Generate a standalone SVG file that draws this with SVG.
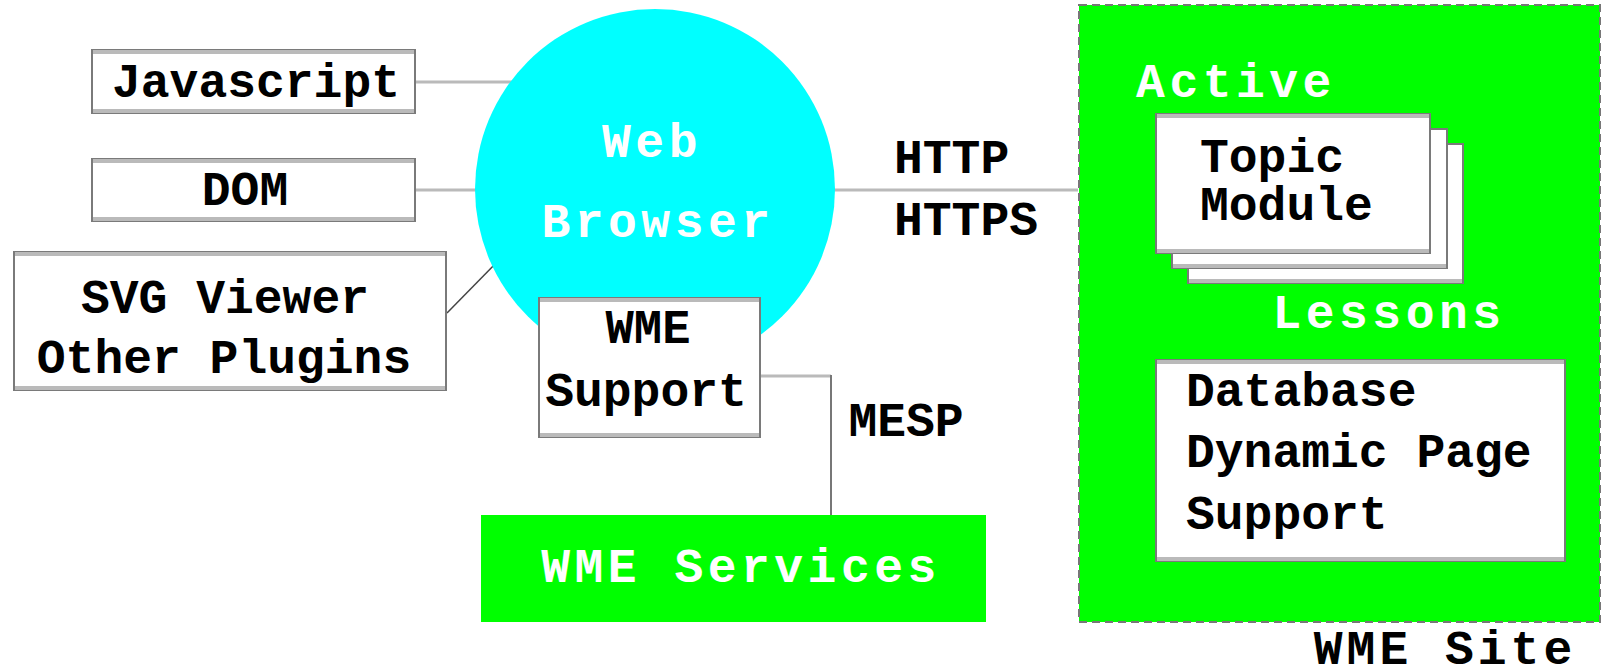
<svg xmlns="http://www.w3.org/2000/svg" width="1602" height="671" viewBox="0 0 1602 671">
<style>
text{font-family:"Liberation Mono","Courier New",monospace;font-weight:bold;font-size:48px}
.b{fill:#000}
.w{fill:#fff;letter-spacing:4.5px}
.m{text-anchor:middle}
.box{fill:#fff;stroke:#7a7a7a;stroke-width:2}
.bev{fill:none;stroke:#bababa;stroke-width:4}
.lt{fill:none;stroke:#bababa;stroke-width:3}
.dk{fill:none;stroke:#777;stroke-width:2}
.thin{fill:none;stroke:#444;stroke-width:1.5}
</style>
<g id="connectors">
<line class="lt" x1="416" y1="82" x2="520" y2="82"/>
<line class="lt" x1="416" y1="190" x2="500" y2="190"/>
<line class="thin" x1="447" y1="313" x2="500" y2="259"/>
<line class="lt" x1="820" y1="190" x2="1078" y2="190"/>
<line class="lt" x1="761" y1="376" x2="831" y2="376"/>
<line class="dk" x1="831" y1="375" x2="831" y2="516"/>
</g>
<g id="javascript">
<rect class="box" x="92" y="50" width="323" height="63"/>
<path class="bev" d="M93,52H414M93,111H414"/>
<text class="b m" x="256" y="97">Javascript</text>
</g>
<g id="dom">
<rect class="box" x="92" y="159" width="323" height="62"/>
<path class="bev" d="M93,161H414M93,219H414"/>
<text class="b m" x="245" y="205">DOM</text>
</g>
<g id="plugins">
<rect class="box" x="14" y="252" width="432" height="138"/>
<path class="bev" d="M15,254H445M15,388H445"/>
<text class="b m" x="225" y="313">SVG Viewer</text>
<text class="b m" x="224" y="373">Other Plugins</text>
</g>
<g id="browser">
<circle cx="655" cy="189" r="180" fill="#00ffff"/>
<text class="w m" x="652" y="157">Web</text>
<text class="w m" x="658" y="237">Browser</text>
</g>
<g id="http-label">
<text class="b" x="894" y="173">HTTP</text>
<text class="b" x="894" y="235">HTTPS</text>
</g>
<g id="wme-support">
<rect class="box" x="539" y="298" width="221" height="139"/>
<path class="bev" d="M540,300H759M540,435H759"/>
<text class="b m" x="648" y="343" textLength="85" lengthAdjust="spacingAndGlyphs">WME</text>
<text class="b m" x="646" y="406">Support</text>
</g>
<g id="mesp-label">
<text class="b m" x="906" y="436">MESP</text>
</g>
<g id="wme-services">
<rect x="481" y="515" width="505" height="107" fill="#00ff00"/>
<text class="w m" x="741" y="582">WME Services</text>
</g>
<g id="wme-site">
<rect x="1079" y="5" width="521" height="617" fill="#00ff00" stroke="#777" stroke-width="2" stroke-dasharray="8,5"/>
<text class="w m" x="1236" y="97">Active</text>
<g id="topic-module">
<rect class="box" x="1188" y="144" width="275" height="139"/>
<path class="bev" d="M1189,281H1462"/>
<rect class="box" x="1172" y="129" width="275" height="139"/>
<path class="bev" d="M1173,266H1446"/>
<rect class="box" x="1156" y="114" width="274" height="139"/>
<path class="bev" d="M1157,116H1429M1157,251H1429"/>
<text class="b" x="1200" y="172">Topic</text>
<text class="b" x="1200" y="220">Module</text>
</g>
<text class="w m" x="1389" y="328">Lessons</text>
<g id="database">
<rect class="box" x="1156" y="360" width="409" height="201"/>
<path class="bev" d="M1157,362H1564M1157,559H1564"/>
<text class="b" x="1186" y="406">Database</text>
<text class="b" x="1186" y="467">Dynamic Page</text>
<text class="b" x="1186" y="529">Support</text>
</g>
</g>
<g id="wme-site-label">
<text class="b m" x="1445" y="664" style="letter-spacing:4px">WME Site</text>
</g>
</svg>
